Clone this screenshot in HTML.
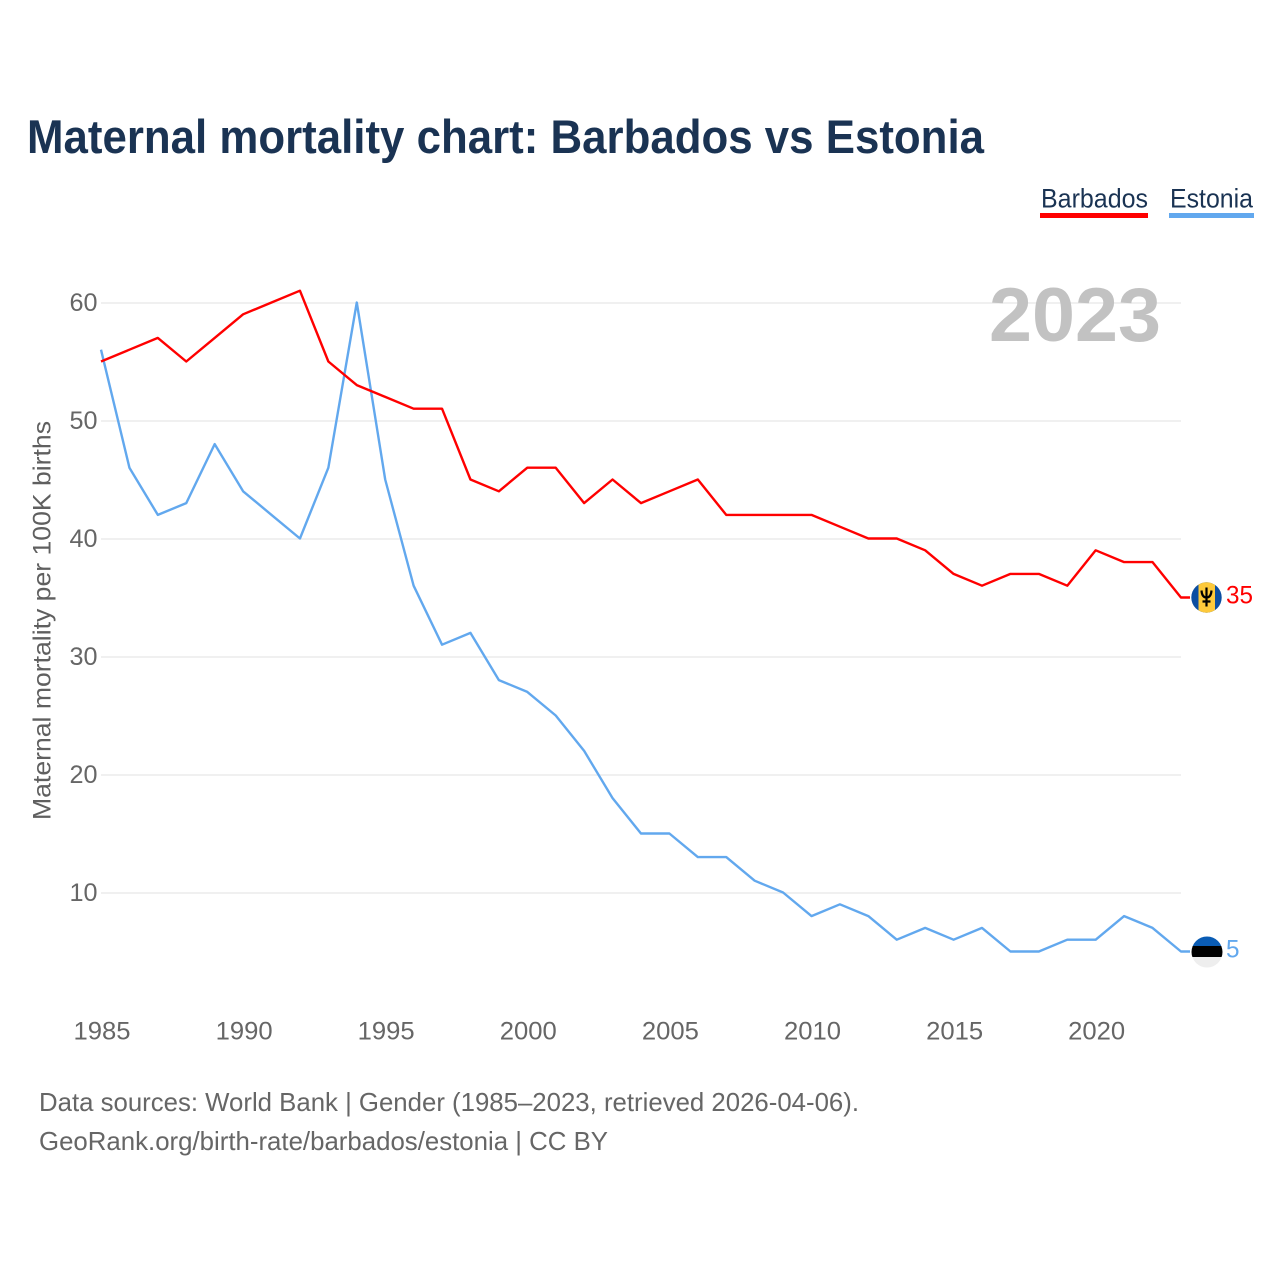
<!DOCTYPE html>
<html lang="en">
<head>
<meta charset="utf-8">
<title>Maternal mortality chart: Barbados vs Estonia</title>
<style>
html,body{margin:0;padding:0;background:#fff;width:1280px;height:1280px;overflow:hidden}
svg{display:block}
text{font-family:"Liberation Sans",sans-serif}
</style>
</head>
<body>
<svg id="chart" width="1280" height="1280" viewBox="0 0 1280 1280" xmlns="http://www.w3.org/2000/svg">
  <rect width="1280" height="1280" fill="#fff"/>
  <text x="27" y="153" font-size="47" font-weight="700" fill="#1a3353" textLength="957" lengthAdjust="spacingAndGlyphs">Maternal mortality chart: Barbados vs Estonia</text>
  <g>
    <text x="1041" y="207.5" font-size="27" fill="#1a3353" textLength="107" lengthAdjust="spacingAndGlyphs">Barbados</text>
    <rect x="1040" y="213" width="108" height="5" fill="#ff0000"/>
  </g>
  <g>
    <text x="1170" y="207.5" font-size="27" fill="#1a3353" textLength="83" lengthAdjust="spacingAndGlyphs">Estonia</text>
    <rect x="1169" y="213" width="85" height="5" fill="#62a8ee"/>
  </g>
  <g id="grid"></g>
  <g id="yticks"></g>
  <g id="xticks"></g>
  <text transform="translate(50.5,820) rotate(-90)" font-size="25" fill="#5f5f5f" textLength="399" lengthAdjust="spacingAndGlyphs">Maternal mortality per 100K births</text>
  <text x="1161" y="341" font-size="76" font-weight="700" fill="#c2c2c2" text-anchor="end" textLength="172" lengthAdjust="spacingAndGlyphs">2023</text>
  <g id="series"></g>
  <g id="endmarkers"></g>
  <text x="39" y="1111" font-size="26" fill="#666" textLength="820" lengthAdjust="spacingAndGlyphs">Data sources: World Bank | Gender (1985–2023, retrieved 2026-04-06).</text>
  <text x="39" y="1150" font-size="26" fill="#666" textLength="569" lengthAdjust="spacingAndGlyphs">GeoRank.org/birth-rate/barbados/estonia | CC BY</text>
</svg>
<script>
const years = [1985,1986,1987,1988,1989,1990,1991,1992,1993,1994,1995,1996,1997,1998,1999,2000,2001,2002,2003,2004,2005,2006,2007,2008,2009,2010,2011,2012,2013,2014,2015,2016,2017,2018,2019,2020,2021,2022,2023];
const barbados = [55,56,57,55,57,59,60,61,55,53,52,51,51,45,44,46,46,43,45,43,44,45,42,42,42,42,41,40,40,39,37,36,37,37,36,39,38,38,35];
const estonia = [56,46,42,43,48,44,42,40,46,60,45,36,31,32,28,27,25,22,18,15,15,13,13,11,10,8,9,8,6,7,6,7,5,5,6,6,8,7,5];
const yTicks = [10,20,30,40,50,60];
const xTicks = [1985,1990,1995,2000,2005,2010,2015,2020];

const NS = 'http://www.w3.org/2000/svg';
const xScale = v => 101 + (v - 1985) * 28.42;
const yScale = v => 1010.5 - v * 11.8;

function make(tag, attrs, parent, txt) {
  const el = document.createElementNS(NS, tag);
  for (const k in attrs) el.setAttribute(k, attrs[k]);
  if (txt !== undefined) el.textContent = txt;
  parent.appendChild(el);
  return el;
}

const grid = document.getElementById('grid');
const yG = document.getElementById('yticks');
const xG = document.getElementById('xticks');
const seriesG = document.getElementById('series');
const endG = document.getElementById('endmarkers');

yTicks.forEach(t => {
  const line = make('line', {x1: 101, x2: 1181, y1: yScale(t) + 0.5, y2: yScale(t) + 0.5, stroke: '#ebebeb', 'stroke-width': 1.5}, grid);
  
  
  const label = make('text', {x: 97.5, y: yScale(t) + 8.5, 'font-size': 25, fill: '#666', 'text-anchor': 'end', textLength: 28, lengthAdjust: 'spacingAndGlyphs'}, yG, String(t));
  
  
});

xTicks.forEach(t => {
  const label = make('text', {x: xScale(t) + 1, y: 1039.5, 'font-size': 25, fill: '#666', 'text-anchor': 'middle', textLength: 57, lengthAdjust: 'spacingAndGlyphs'}, xG, String(t));
  
  
});

function drawLine(values, color, name) {
  const pts = values.map((v, i) => (i ? 'L' : 'M') + xScale(years[i]).toFixed(2) + ' ' + yScale(v).toFixed(2));
  pts.push('H1190');
  const p = make('path', {d: pts.join(' '), fill: 'none', stroke: color, 'stroke-width': 2.4, 'stroke-linejoin': 'round'}, seriesG);
  
  
}
drawLine(estonia, '#62a8ee', 'line-estonia');
drawLine(barbados, '#ff0000', 'line-barbados');

function lastOf(arr) { return arr[arr.length - 1]; }

function endLabel(values, color, name) {
  const y = yScale(lastOf(values));
  const label = make('text', {x: 1226, y: y + 6, 'font-size': 25, fill: color}, endG, String(lastOf(values)));
  
  
  label.setAttribute('textLength', String(lastOf(values)).length * 13.5);
  label.setAttribute('lengthAdjust', 'spacingAndGlyphs');
  return y;
}

const by = endLabel(barbados, '#ff0000', 'end-label-barbados');
const ey = endLabel(estonia, '#62a8ee', 'end-label-estonia');
const defs = make('defs', {}, endG);
const c1 = make('clipPath', {id: 'clip-bb'}, defs);
make('circle', {cx: 1206.5, cy: by, r: 15.2}, c1);
const c2 = make('clipPath', {id: 'clip-ee'}, defs);
make('circle', {cx: 1207, cy: ey + 0.5, r: 15.5}, c2);

const bbFlag = make('g', {'clip-path': 'url(#clip-bb)'}, endG);


make('rect', {x: 1190, y: by - 16, width: 33, height: 32, fill: '#0b4ea2'}, bbFlag);
make('rect', {x: 1198.5, y: by - 16, width: 16.5, height: 32, fill: '#fdc93b'}, bbFlag);
make('path', {d: `M1201.5 ${by-7} q0.5 7 5 7 q4.5 0 5 -7 M1206.5 ${by-10} V${by+9} M1202.5 ${by+4} H1210.5`, fill: 'none', stroke: '#000', 'stroke-width': 2.2}, bbFlag);

const eeFlag = make('g', {'clip-path': 'url(#clip-ee)'}, endG);


make('rect', {x: 1190, y: ey - 16, width: 34, height: 11, fill: '#0a5cb4'}, eeFlag);
make('rect', {x: 1190, y: ey - 5.5, width: 34, height: 11, fill: '#000'}, eeFlag);
make('rect', {x: 1190, y: ey + 5.5, width: 34, height: 12, fill: '#eeeeee'}, eeFlag);
</script>
</body>
</html>
